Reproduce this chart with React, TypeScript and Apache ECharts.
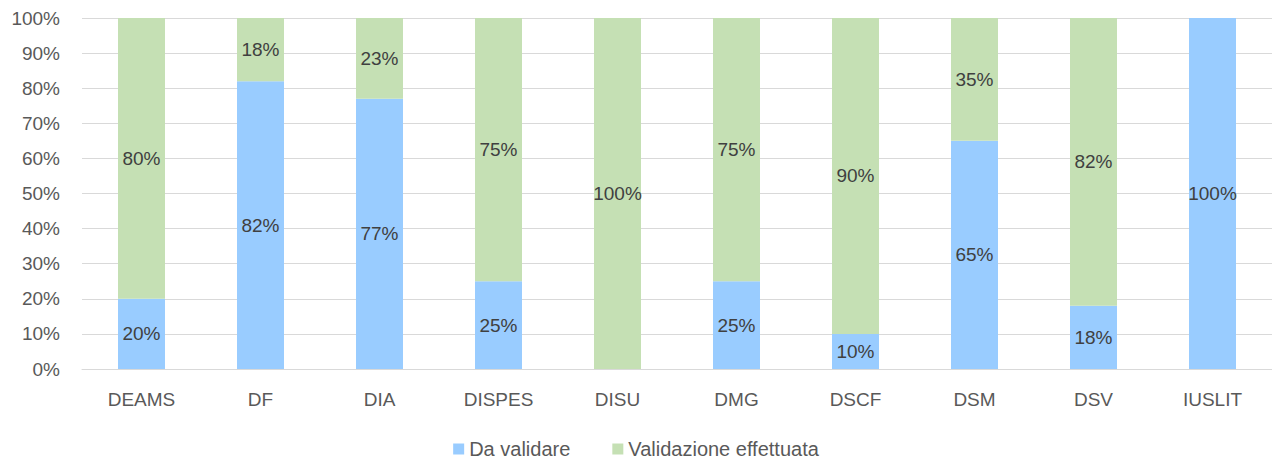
import React, { useEffect, useRef } from "react";
import * as echarts from "echarts";

const categories = ["DEAMS", "DF", "DIA", "DISPES", "DISU", "DMG", "DSCF", "DSM", "DSV", "IUSLIT"];
const daValidare = [20, 82, 77, 25, 0, 25, 10, 65, 18, 100];
const validazioneEffettuata = [80, 18, 23, 75, 100, 75, 90, 35, 82, 0];
const seriesNames = ["Da validare", "Validazione effettuata"];

const FONT = "'Liberation Sans', Arial, sans-serif";

export default function App() {
  const ref = useRef<HTMLDivElement>(null);
  useEffect(() => {
    if (!ref.current) return;
    const chart = echarts.init(ref.current, null, { renderer: "svg" });
    const label = {
      show: true,
      position: "inside" as const,
      color: "#404040",
      fontSize: 19,
      fontFamily: FONT,
      formatter: (p: any) => (p.value > 0 ? p.value + "%" : ""),
    };
    chart.setOption({
      animation: false,
      backgroundColor: "#ffffff",
      textStyle: { fontFamily: FONT },
      legend: {
        bottom: 0,
        left: "center",
        itemWidth: 11,
        itemHeight: 11,
        itemGap: 42,
        icon: "rect",
        textStyle: { color: "#595959", fontSize: 20, fontFamily: FONT },
        data: seriesNames,
      },
      grid: { left: 82, right: 0, top: 18, bottom: 95, containLabel: false },
      xAxis: {
        type: "category",
        data: categories,
        axisLine: { show: true, lineStyle: { color: "#d9d9d9", width: 1 } },
        axisTick: { show: false },
        axisLabel: { color: "#595959", fontSize: 19, fontFamily: FONT, margin: 21 },
      },
      yAxis: {
        type: "value",
        min: 0,
        max: 100,
        interval: 10,
        axisLine: { show: false },
        axisTick: { show: false },
        splitLine: { lineStyle: { color: "#d9d9d9", width: 1 } },
        axisLabel: { color: "#595959", fontSize: 19, fontFamily: FONT, margin: 22, formatter: "{value}%" },
      },
      series: [
        {
          name: seriesNames[0],
          type: "bar",
          stack: "tot",
          data: daValidare,
          barWidth: 47,
          itemStyle: { color: "#99CCFF" },
          label,
        },
        {
          name: seriesNames[1],
          type: "bar",
          stack: "tot",
          data: validazioneEffettuata,
          barWidth: 47,
          itemStyle: { color: "#C5E0B4" },
          label,
        },
      ],
    });
    return () => chart.dispose();
  }, []);
  return (
    <div
      ref={ref}
      style={{ position: "fixed", left: 0, top: 0, width: 1272, height: 464, background: "#fff" }}
    />
  );
}
